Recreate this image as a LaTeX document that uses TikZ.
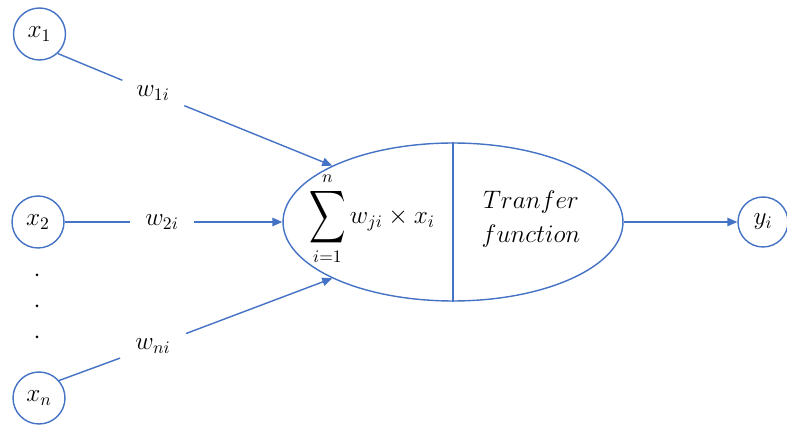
\documentclass[tikz,border=0pt]{standalone}
\usepackage{amsmath}
\usepackage{graphicx}
\usetikzlibrary{arrows.meta, shapes.geometric}
\definecolor{lineblue}{HTML}{4472C4}

\begin{document}
\begin{tikzpicture}[x=0.02cm, y=-0.02cm,
 neuron/.style={draw=lineblue, circle, line width=0.8pt, minimum size=1.04cm, inner sep=0pt, font=\fontsize{14}{17}\selectfont},
 wlab/.style={inner xsep=0.3cm, inner ysep=0.1cm, font=\fontsize{14}{17}\selectfont},
 txt/.style={align=center, font=\fontsize{14}{19}\selectfont},
 ln/.style={draw=lineblue, line width=0.8pt},
 arr/.style={ln, -{Triangle[length=2mm, width=1.7mm]}}]
\useasboundingbox (0,0) rectangle (787,428);
\node[neuron] (x1) at (39.5,34) {$x_1$};
\node[neuron] (x2) at (38,222) {$x_2$};
\node[neuron] (xn) at (39,398) {$x_n$};
\node[neuron, minimum size=1.0cm] (yi) at (763,222) {$y_i$};
\node[draw=lineblue, line width=0.8pt, ellipse, minimum width=6.8cm, minimum height=3.16cm, inner sep=0pt] (sum) at (453,222) {};
\node[txt] (formula) at (372,219) {$\displaystyle\mathop{\vcenter{\hbox{\scalebox{1}[1.45]{$\displaystyle\sum$}}}}\limits_{i=1}^{n} w_{ji}\times x_i$};
\node[txt] (transfer) at (531,219) {$Tranfer$\\ $function$};
\node[wlab] (w1) at (153,93) {$w_{1i}$};
\node[wlab] (w2) at (162,222) {$w_{2i}$};
\node[wlab] (wn) at (153,346) {$w_{ni}$};
\fill (37,275) circle (1.5);
\fill (37,306) circle (1.5);
\fill (37,337) circle (1.5);
\draw[ln] (sum.north) -- (sum.south);
\draw[ln] (x1.-47) -- (w1);
\draw[arr] (w1) -- (sum.155);
\draw[ln] (x2) -- (w2);
\draw[arr] (w2) -- (sum.west);
\draw[ln] (xn.41) -- (wn);
\draw[arr] (wn) -- (sum.205);
\draw[arr] (sum.east) -- (yi);
\end{tikzpicture}
\end{document}
